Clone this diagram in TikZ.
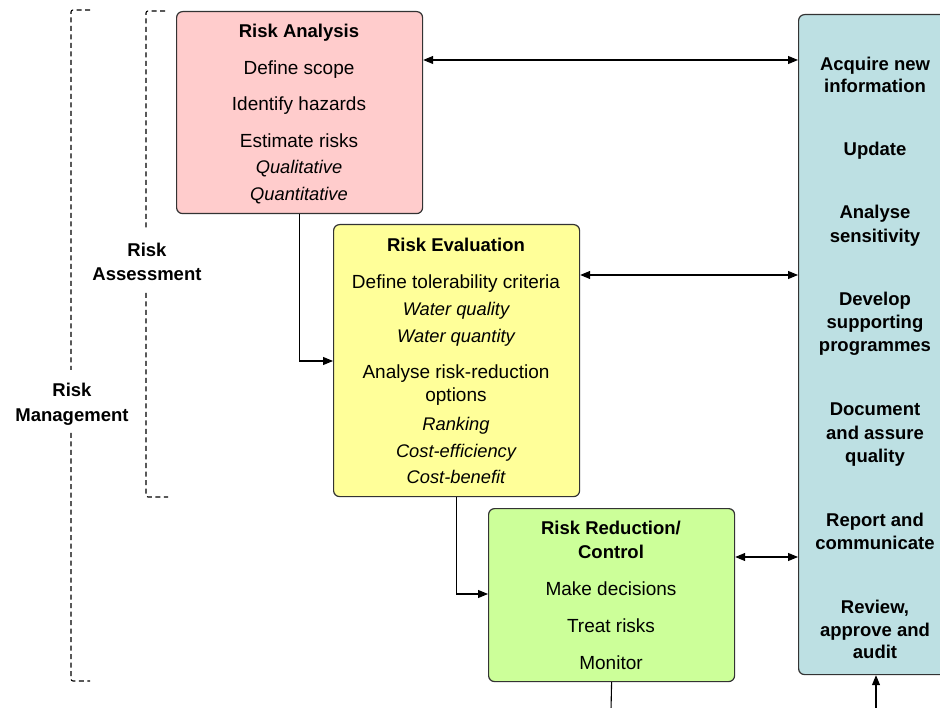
\documentclass[tikz,border=0pt]{standalone}
\usepackage{fontspec}
\setmainfont{Liberation Sans}
\usetikzlibrary{arrows.meta,calc}
\definecolor{pinkc}{HTML}{FFCCCC}
\definecolor{yellowc}{HTML}{FFFF99}
\definecolor{greenc}{HTML}{CCFF99}
\definecolor{bluec}{HTML}{BDE0E3}
\definecolor{edgec}{HTML}{333333}
\tikzset{
  box/.style={draw=edgec, line width=1.2pt, rounded corners=6pt, anchor=north west, inner sep=0pt},
  tl/.style={anchor=base, inner sep=0pt, font=\fontsize{19}{22}\selectfont},
  tb/.style={tl, font=\fontsize{18.5}{22}\selectfont\bfseries},
  ti/.style={tl, font=\fontsize{18.3}{22}\selectfont\itshape},
  brk/.style={line width=1.1pt, dash pattern=on 5pt off 3.5pt, rounded corners=2pt},
  arr/.style={line width=1.1pt, -{Triangle[length=10pt,width=8pt]}},
  dbl/.style={line width=1.1pt, {Triangle[length=10pt,width=8pt]}-{Triangle[length=10pt,width=8pt]}},
  plain/.style={line width=1.1pt}
}
\begin{document}
\begin{tikzpicture}[x=1pt,y=-1pt]
\useasboundingbox (0,0) rectangle (940,708);
% boxes
\node[box, fill=pinkc, minimum width=246pt, minimum height=202pt] (ra) at (176,11) {};
\node[box, fill=yellowc, minimum width=246pt, minimum height=272pt] (re) at (333,224) {};
\node[box, fill=greenc, minimum width=246pt, minimum height=173pt] (rr) at (488,508) {};
\begin{scope}
\clip (0,0) rectangle (940,708);
\node[box, fill=bluec, minimum width=156pt, minimum height=660pt] (rc) at (798,14) {};
\end{scope}
% Risk Analysis text
\node[tb] (ra0) at (299,38) {Risk Analysis};
\node[tl] (ra1) at (299,75) {Define scope};
\node[tl] (ra2) at (299,111) {Identify hazards};
\node[tl] (ra3) at (299,148) {Estimate risks};
\node[ti] (ra4) at (299,174) {Qualitative};
\node[ti] (ra5) at (299,201) {Quantitative};
% Risk Evaluation text
\node[tb] (re0) at (456,252) {Risk Evaluation};
\node[tl] (re1) at (456,289) {Define tolerability criteria};
\node[ti] (re2) at (456,316) {Water quality};
\node[ti] (re3) at (456,343) {Water quantity};
\node[tl] (re4) at (456,379) {Analyse risk-reduction};
\node[tl] (re5) at (456,402) {options};
\node[ti] (re6) at (456,431) {Ranking};
\node[ti] (re7) at (456,457) {Cost-efficiency};
\node[ti] (re8) at (456,483) {Cost-benefit};
% Risk Reduction text
\node[tb] (rr0) at (611,534) {Risk Reduction/};
\node[tb] (rr1) at (611,558) {Control};
\node[tl] (rr2) at (611,595) {Make decisions};
\node[tl] (rr3) at (611,632) {Treat risks};
\node[tl] (rr4) at (611,669) {Monitor};
% right column text
\node[tb] (c1) at (875,71) {Acquire new};
\node[tb] (c2) at (875,93) {information};
\node[tb] (c3) at (875,156) {Update};
\node[tb] (c4) at (875,219) {Analyse};
\node[tb] (c5) at (875,243) {sensitivity};
\node[tb] (c6) at (875,306) {Develop};
\node[tb] (c7) at (875,329) {supporting};
\node[tb] (c8) at (875,352) {programmes};
\node[tb] (c9) at (875,416) {Document};
\node[tb] (c10) at (875,439) {and assure};
\node[tb] (c11) at (875,463) {quality};
\node[tb] (c12) at (875,526) {Report and};
\node[tb] (c13) at (875,549) {communicate};
\node[tb] (c14) at (875,613) {Review,};
\node[tb] (c15) at (875,636) {approve and};
\node[tb] (c16) at (875,658) {audit};
% left labels
\node[tb] (la1) at (147,257) {Risk};
\node[tb] (la2) at (147,281) {Assessment};
\node[tb] (lm1) at (72,397) {Risk};
\node[tb] (lm2) at (72,421) {Management};
% brackets
\draw[brk] (165,11) -- (146,11) -- (146,230);
\draw[brk] (146,293) -- (146,497) -- (168,497);
\draw[brk] (90,10) -- (71,10) -- (71,370);
\draw[brk] (71,433) -- (71,681) -- (90,681);
% connectors
\draw[dbl] (ra.east |- 0,60) -- (rc.west |- 0,60);
\draw[dbl] (re.east |- 0,275) -- (rc.west |- 0,275);
\draw[dbl] (rr.east |- 0,557) -- (rc.west |- 0,557);
\draw[arr] (ra.south) |- (re.west |- 0,361);
\draw[arr] (re.south) |- (rr.west |- 0,594);
\coordinate (bot1) at (611,710);
\coordinate (bot2) at (876,710);
\draw[plain] (rr.south) -- (bot1);
\draw[arr] (bot2) -- (bot2 |- rc.south);
\end{tikzpicture}
\end{document}
